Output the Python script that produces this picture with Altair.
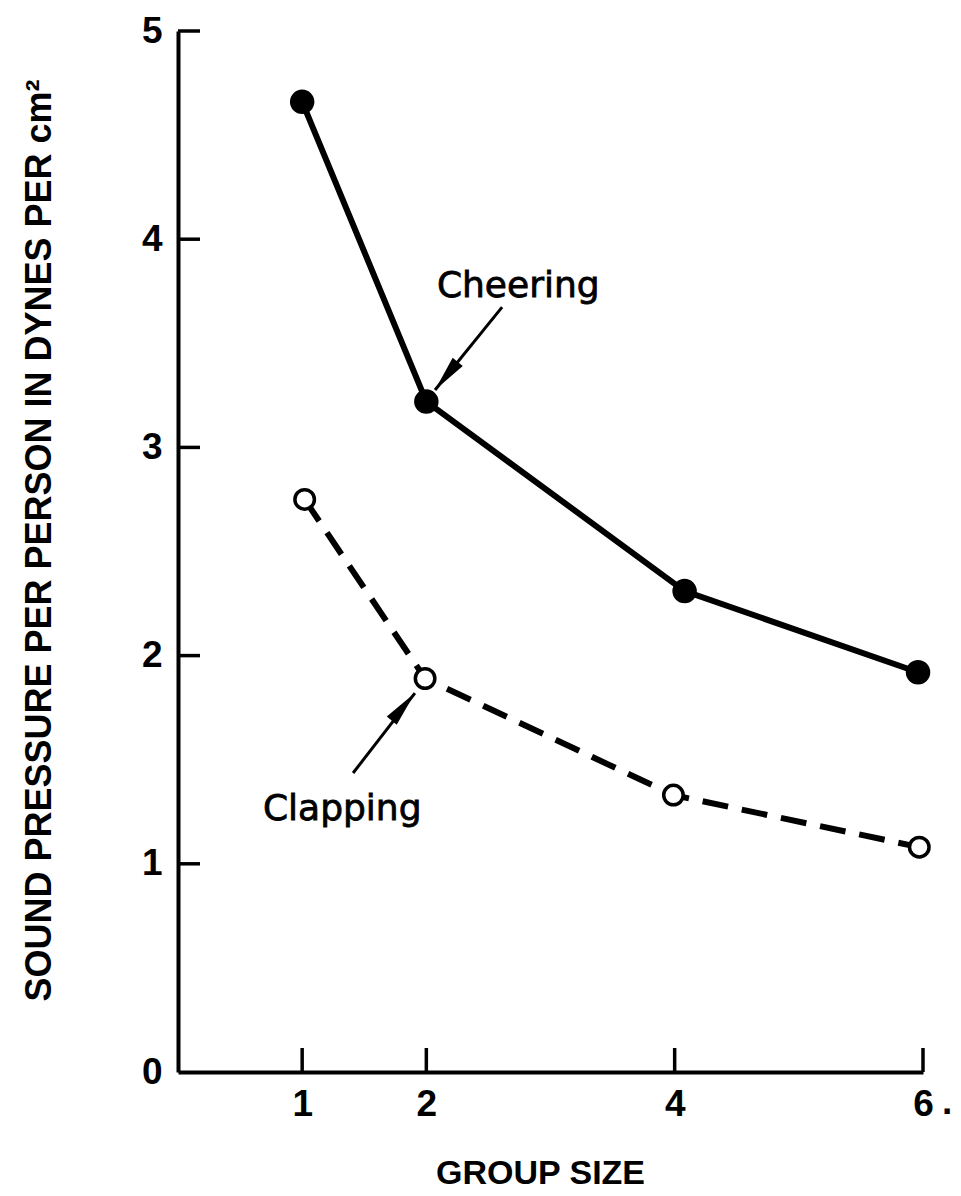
import altair as alt
import pandas as pd

# ---- data ----
cheer_size = [1.0, 2.0, 4.08, 5.96]
cheer_pressure = [4.66, 3.22, 2.31, 1.92]
clap_size = [1.02, 1.99, 3.99, 5.97]
clap_pressure = [2.75, 1.89, 1.33, 1.08]

y_tick_values = [0, 1, 2, 3, 4, 5]
y_inner_ticks = [1, 2, 3, 4, 5]
x_tick_values = [1, 2, 4, 6]

ann_labels = ["Cheering", "Clapping"]
ann_x = [2.085, 0.684]
ann_y = [3.72, 1.21]
arrow_x = [2.61, 1.41]
arrow_y = [3.674, 1.436]
arrow_tip_x = [2.07, 1.908]
arrow_tip_y = [3.276, 1.82]
arrow_angle = [219, 40]

W, H = 745, 1041
FONT = "Liberation Sans"
ANN_FONT = "DejaVu Sans"

cheer_df = pd.DataFrame({"size": cheer_size, "p": cheer_pressure})
clap_df = pd.DataFrame({"size": clap_size, "p": clap_pressure})
ann_df = pd.DataFrame({"label": ann_labels, "x": ann_x, "y": ann_y,
                       "ax": arrow_x, "ay": arrow_y,
                       "tx": arrow_tip_x, "ty": arrow_tip_y,
                       "angle": arrow_angle})
yt_df = pd.DataFrame({"v": y_inner_ticks})
xt_df = pd.DataFrame({"v": x_tick_values})
dot_df = pd.DataFrame({"v": [6], "t": ["."]})

xscale = alt.Scale(domain=[0, 6], nice=False, zero=False)
yscale = alt.Scale(domain=[0, 5], nice=False)

x_axis = alt.Axis(
    values=x_tick_values, format="d", ticks=False, tickSize=0, grid=False,
    domainWidth=4, domainColor="black",
    labelFont=FONT, labelFontSize=37, labelFontWeight="bold", labelColor="black",
    labelPadding=14, labelFlush=False,
    title="GROUP SIZE", titleFont=FONT, titleFontSize=34, titleFontWeight="bold",
    titleColor="black", titleX=362, titleY=111, titleBaseline="alphabetic",
    titleAlign="center",
)
y_axis = alt.Axis(
    values=y_tick_values, format="d", ticks=False, tickSize=0, grid=False,
    domainWidth=4, domainColor="black",
    labelFont=FONT, labelFontSize=37, labelFontWeight="bold", labelColor="black",
    labelPadding=16, labelFlush=False,
    title="SOUND PRESSURE PER PERSON IN DYNES PER cm²",
    titleFont=FONT, titleFontSize=36, titleFontWeight="bold", titleColor="black",
    titleAngle=270, titleX=-128, titleY=509, titleBaseline="alphabetic",
    titleAlign="center",
)

base_cheer = alt.Chart(cheer_df).encode(
    x=alt.X("size:Q", scale=xscale, axis=x_axis),
    y=alt.Y("p:Q", scale=yscale, axis=y_axis),
)
cheer_line = base_cheer.mark_line(color="black", strokeWidth=6)
cheer_pts = base_cheer.mark_point(shape="circle", filled=True, color="black",
                                  size=600, opacity=1)

base_clap = alt.Chart(clap_df).encode(
    x=alt.X("size:Q", scale=xscale),
    y=alt.Y("p:Q", scale=yscale),
)
clap_line = base_clap.mark_line(color="black", strokeWidth=6, strokeDash=[26, 14])
clap_pts = base_clap.mark_point(shape="circle", filled=False, fill="white",
                                fillOpacity=1, stroke="black", strokeWidth=3.5,
                                size=380, opacity=1)

ytick_marks = alt.Chart(yt_df).mark_rule(color="black", strokeWidth=3.5).encode(
    y=alt.Y("v:Q", scale=yscale), x=alt.value(0), x2=alt.value(22)
)
xtick_marks = alt.Chart(xt_df).mark_rule(color="black", strokeWidth=3.5).encode(
    x=alt.X("v:Q", scale=xscale), y=alt.value(H), y2=alt.value(H - 24)
)

arrow_lines = alt.Chart(ann_df).mark_rule(color="black", strokeWidth=3).encode(
    x=alt.X("ax:Q", scale=xscale), y=alt.Y("ay:Q", scale=yscale),
    x2="tx:Q", y2="ty:Q",
)
arrow_heads = alt.Chart(ann_df).mark_point(
    shape="M0,0 L0.36,2 L-0.36,2 Z", filled=True, color="black",
    size=1300, opacity=1,
).encode(
    x=alt.X("tx:Q", scale=xscale), y=alt.Y("ty:Q", scale=yscale),
    angle=alt.Angle("angle:Q", scale=None),
)
ann_text = alt.Chart(ann_df).mark_text(
    font=ANN_FONT, fontSize=36, color="black", align="left",
    baseline="alphabetic", stroke="black", strokeWidth=0.8,
).encode(
    x=alt.X("x:Q", scale=xscale), y=alt.Y("y:Q", scale=yscale), text="label:N"
)
dot_text = alt.Chart(dot_df).mark_text(
    font=FONT, fontSize=37, fontWeight="bold", color="black", align="left",
    baseline="alphabetic", dx=19,
).encode(x=alt.X("v:Q", scale=xscale), y=alt.value(H + 42), text="t:N")

chart = alt.layer(
    ytick_marks, xtick_marks, arrow_lines, arrow_heads, ann_text, dot_text,
    cheer_line, clap_line, cheer_pts, clap_pts,
).properties(
    width=W, height=H,
    autosize=alt.AutoSizeParams(type="none"),
    padding={"left": 170, "top": 23, "right": 30, "bottom": 124},
    background="white",
).configure_view(stroke="transparent")

chart.save("out.html", embed_options={"renderer": "svg", "actions": False})
